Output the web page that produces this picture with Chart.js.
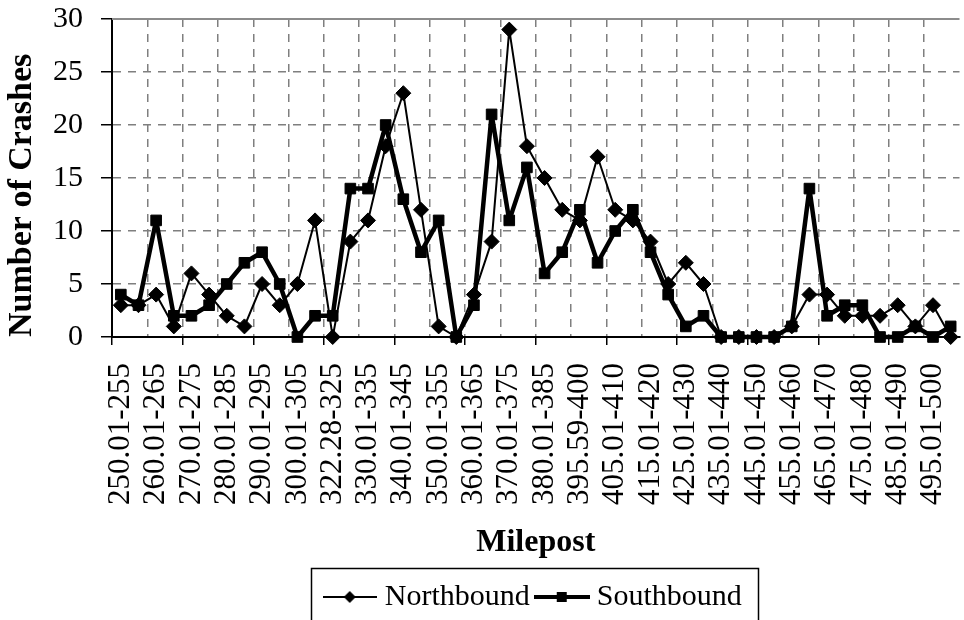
<!DOCTYPE html>
<html>
<head>
<meta charset="utf-8">
<script src="https://cdn.jsdelivr.net/npm/chart.js@4.4.1/dist/chart.umd.min.js"></script>
<style>
html,body{margin:0;padding:0;background:#fff;overflow:hidden;width:964px;height:620px}
#wrap{width:968px;height:640px}
</style>
</head>
<body>
<div id="wrap"><canvas id="c" width="968" height="640"></canvas></div>
<script>
const categories = [
  "250.01-255","255.01-260","260.01-265","265.01-270","270.01-275","275.01-280",
  "280.01-285","285.01-290","290.01-295","295.01-300","300.01-305","305.01-322.27",
  "322.28-325","325.01-330","330.01-335","335.01-340","340.01-345","345.01-350",
  "350.01-355","355.01-360","360.01-365","365.01-370","370.01-375","375.01-380",
  "380.01-385","385.01-395.58","395.59-400","400.01-405","405.01-410","410.01-415",
  "415.01-420","420.01-425","425.01-430","430.01-435","435.01-440","440.01-445",
  "445.01-450","450.01-455","455.01-460","460.01-465","465.01-470","470.01-475",
  "475.01-480","480.01-485","485.01-490","490.01-495","495.01-500","500.01-505"
];
const northbound = [3,3,4,1,6,4,2,1,5,3, 5,11,0,9,11,18,23,12,1,0, 4,9,29,18,15,12,11,17,12,11, 9,5,7,5,0,0,0,0,1,4, 4,2,2,2,3,1,3,0];
const southbound = [4,3,11,2,2,3,5,7,8,5, 0,2,2,14,14,20,13,8,11,0, 3,21,11,16,6,8,12,7,10,12, 8,4,1,2,0,0,0,0,1,14, 2,3,3,0,0,1,0,1];
const yTicks = [0,5,10,15,20,25,30];
const seriesNames = ["Northbound","Southbound"];
const xTitle = "Milepost";
const yTitle = "Number of Crashes";

const FONT = "'Liberation Serif','Times New Roman',serif";
Chart.defaults.font.family = FONT;
Chart.defaults.color = '#000';
const GRID = '#7f7f7f';
const DASH = [8,7];

function legendIcon(kind, lw, r, w) {
  const c = document.createElement('canvas');
  c.width = w; c.height = 16;
  const g = c.getContext('2d');
  const m = w / 2;
  g.strokeStyle = '#000'; g.lineWidth = lw;
  g.beginPath(); g.moveTo(0, 8); g.lineTo(w, 8); g.stroke();
  g.fillStyle = '#000';
  if (kind === 'diamond') {
    g.beginPath(); g.moveTo(m - r, 8); g.lineTo(m, 8 - r); g.lineTo(m + r, 8); g.lineTo(m, 8 + r); g.closePath(); g.fill();
  } else {
    g.fillRect(m - r, 8 - r, 2 * r, 2 * r);
  }
  return c;
}
const icons = [legendIcon('diamond', 2, 6, 54), legendIcon('square', 4, 5, 56)];

const framePlugin = {
  id: 'frame',
  beforeDatasetsDraw(chart) {
    const {ctx, chartArea: a} = chart;
    ctx.save();
    ctx.strokeStyle = '#8c8c8c'; ctx.lineWidth = 2;
    ctx.beginPath(); ctx.moveTo(a.left, a.top); ctx.lineTo(a.right, a.top); ctx.stroke();
    ctx.restore();
  },
  afterDraw(chart) {
    const lg = chart.legend;
    if (!lg || !lg.lineWidths) return;
    const pad = lg.options.labels.padding;
    const startX = (lg.left + pad + lg.right - lg.lineWidths[0]) / 2;
    const endX = startX + lg.lineWidths[0] - pad;
    const ctx = chart.ctx;
    ctx.save();
    ctx.strokeStyle = '#000'; ctx.lineWidth = 1.5;
    ctx.strokeRect(Math.round(startX - 19) + 0.5, Math.round(lg.top - 2) + 0.5, Math.round(endX - startX + 35), 58);
    ctx.restore();
  }
};

new Chart(document.getElementById('c'), {
  type: 'line',
  data: {
    labels: categories,
    datasets: [
      {
        label: seriesNames[0], data: northbound, order: 1,
        borderColor: '#000', borderWidth: 2, tension: 0, fill: false, borderJoinStyle: 'round',
        pointStyle: 'rectRot', pointRadius: 7.5, pointHoverRadius: 7.5,
        pointBackgroundColor: '#000', pointBorderColor: '#000', pointBorderWidth: 1,
        clip: false
      },
      {
        label: seriesNames[1], data: southbound, order: 0,
        borderColor: '#000', borderWidth: 4.5, tension: 0, fill: false, borderJoinStyle: 'round',
        pointStyle: 'rect', pointRadius: 7.5, pointHoverRadius: 7.5,
        pointBackgroundColor: '#000', pointBorderColor: '#000', pointBorderWidth: 1,
        clip: false
      }
    ]
  },
  options: {
    responsive: false,
    animation: false,
    devicePixelRatio: 1,
    layout: { padding: { top: 19, left: 0, right: 0, bottom: 18 } },
    scales: {
      x: {
        type: 'category',
        offset: true,
        afterFit(s) { s.height = 233; s.paddingLeft = 0; s.paddingRight = 0; },
        grid: {
          offset: true,
          lineWidth: 1.5,
          color: c => (c.index !== undefined && c.index > 0 && c.index % 2 === 0) ? GRID : 'rgba(0,0,0,0)',
          tickColor: c => (c.index !== undefined && c.index % 4 === 0) ? '#000' : 'rgba(0,0,0,0)',
          tickLength: 8,
          tickWidth: 1.5
        },
        border: { color: '#000', width: 2, dash: DASH },
        ticks: {
          autoSkip: false, maxRotation: 90, minRotation: 90, padding: 18,
          font: { size: 31 }, color: '#000',
          callback: function (v, i) { return i % 2 === 0 ? this.getLabelForValue(v) : ''; }
        },
        title: {
          display: true, text: xTitle, color: '#000',
          font: { size: 32, weight: 'bold' }, padding: { top: 0, bottom: 8 }
        }
      },
      y: {
        min: yTicks[0], max: yTicks[yTicks.length - 1],
        afterFit(s) { s.width = 112; s.paddingTop = 0; s.paddingBottom = 0; },
        grid: {
          lineWidth: 1.5,
          color: c => (c.tick && (c.tick.value === yTicks[0] || c.tick.value === yTicks[yTicks.length - 1])) ? 'rgba(0,0,0,0)' : GRID,
          tickColor: '#000', tickLength: 11, tickWidth: 1.5
        },
        border: { color: '#000', width: 2, dash: DASH },
        ticks: { stepSize: yTicks[1] - yTicks[0], padding: 18, font: { size: 30 }, color: '#000' },
        title: {
          display: true, text: yTitle, color: '#000', align: 'start',
          font: { size: 34, weight: 'bold' }, padding: { top: 2, bottom: 0 }
        }
      }
    },
    plugins: {
      tooltip: { enabled: false },
      legend: {
        position: 'bottom',
        fullSize: false,
        labels: {
          usePointStyle: true, pointStyleWidth: 40, padding: 12,
          font: { size: 30 }, color: '#000',
          generateLabels: () => seriesNames.map((n, i) => ({
            text: n, pointStyle: icons[i], fillStyle: '#000', strokeStyle: '#000',
            lineWidth: 0, hidden: false, datasetIndex: i, fontColor: '#000'
          }))
        }
      }
    }
  },
  plugins: [framePlugin]
});
</script>
</body>
</html>
